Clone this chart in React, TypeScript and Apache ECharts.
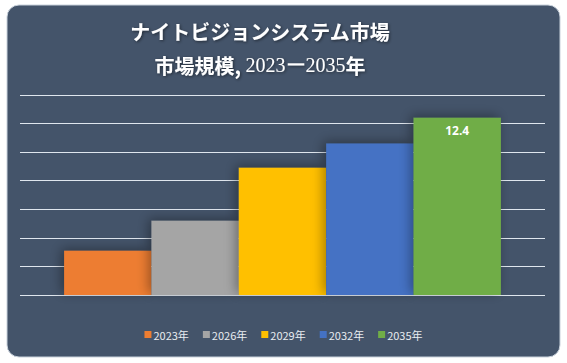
import React, { useEffect, useRef } from "react";
import * as echarts from "echarts";

const years = ["2023年", "2026年", "2029年", "2032年", "2035年"];
const values = [3.1, 5.2, 8.9, 10.6, 12.4];
const colors = ["#ED7D31", "#A5A5A5", "#FFC000", "#4472C4", "#70AD47"];
const category = ["市場規模"];
const titleLine1 = "ナイトビジョンシステム市場";

export default function App() {
  const ref = useRef<HTMLDivElement>(null);
  useEffect(() => {
    if (!ref.current) return;
    const chart = echarts.init(ref.current, undefined, { renderer: "svg" });
    const shadow = {
      textShadowColor: "rgba(0,0,0,0.5)",
      textShadowBlur: 3,
      textShadowOffsetX: 1,
      textShadowOffsetY: 1,
    };
    const series = years.map((y, i) => ({
      name: y,
      type: "bar",
      data: [values[i]],
      barGap: "0%",
      barCategoryGap: "16.8%",
      itemStyle: {
        color: colors[i],
        shadowBlur: 12,
        shadowColor: "rgba(0,0,0,0.35)",
        shadowOffsetX: -3,
        shadowOffsetY: -2,
      },
      label: {
        show: i === years.length - 1,
        position: "insideTop",
        distance: 7,
        color: "#ffffff",
        fontWeight: "bold",
        fontSize: 12,
        fontFamily: "Open Sans, sans-serif",
        formatter: (p: any) => p.value.toFixed(1),
      },
    }));
    chart.setOption({
      animation: false,
      backgroundColor: "#ffffff",
      graphic: [
        {
          type: "rect",
          z: -10,
          shape: { x: 7, y: 5, width: 553, height: 352, r: 12 },
          style: { fill: "#44546A", stroke: "#c9d2dc", lineWidth: 1 },
        },
      ],
      title: {
        text: titleLine1 + "\n{a|市場規模, }{b|2023ー2035}{a|年}",
        left: 255,
        textAlign: "center",
        top: 9,
        textStyle: {
          color: "#ffffff",
          fontSize: 20,
          fontWeight: "bold",
          fontFamily: "Noto Sans CJK JP",
          lineHeight: 34,
          ...shadow,
          rich: {
            a: {
              color: "#ffffff",
              fontSize: 20,
              fontWeight: "bold",
              fontFamily: "Noto Sans CJK JP",
              lineHeight: 34,
              ...shadow,
            },
            b: {
              color: "#ffffff",
              fontSize: 20,
              fontWeight: "normal",
              fontFamily: "Liberation Serif",
              lineHeight: 34,
              ...shadow,
            },
          },
        },
      },
      legend: {
        data: years,
        bottom: 18,
        left: "center",
        itemWidth: 7,
        itemHeight: 7,
        itemGap: 14,
        icon: "rect",
        textStyle: {
          color: "#e8ecf0",
          fontSize: 11,
          fontFamily: "Noto Sans CJK JP",
          padding: [0, 0, 0, -3],
        },
      },
      grid: { left: 20, right: 22, top: 95, bottom: 68 },
      xAxis: {
        type: "category",
        data: category,
        axisLine: { show: false },
        axisTick: { show: false },
        axisLabel: { show: false },
      },
      yAxis: {
        type: "value",
        min: 0,
        max: 14,
        interval: 2,
        axisLabel: { show: false },
        axisLine: { show: false },
        axisTick: { show: false },
        splitLine: { lineStyle: { color: "#dfe6ee", width: 1 } },
      },
      series,
    });
    return () => chart.dispose();
  }, []);
  return (
    <div
      ref={ref}
      style={{ position: "fixed", left: 0, top: 0, width: 567, height: 363 }}
    />
  );
}
